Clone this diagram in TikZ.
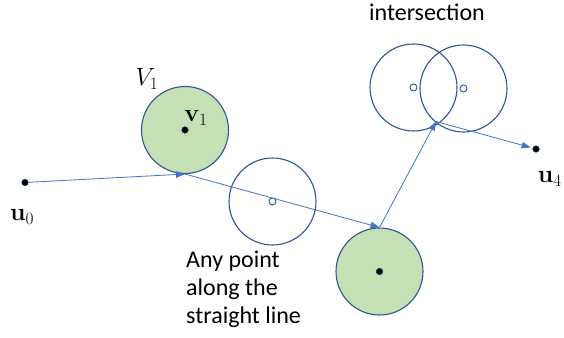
\documentclass[tikz,border=0pt]{standalone}
\usepackage{amsmath,amssymb}
\usepackage{bm}
\usepackage[no-math]{fontspec}
\setmainfont{Carlito}
\usepackage{tikz}
\usepackage{xcolor}
\usetikzlibrary{arrows.meta,positioning,calc}
\definecolor{ringblue}{HTML}{2F5597}
\definecolor{ballgreen}{HTML}{C5E0B4}
\definecolor{arrowblue}{HTML}{4472C4}
\definecolor{dotnavy}{HTML}{1F3864}
\tikzset{
  greenball/.style={draw=ringblue,fill=ballgreen,line width=1.1pt,circle,
                    minimum size=87pt,inner sep=0pt},
  emptyball/.style={draw=ringblue,line width=1.1pt,circle,
                    minimum size=87pt,inner sep=0pt},
  pathdot/.style={draw=dotnavy,fill=black,circle,line width=0.6pt,
                  minimum size=6.5pt,inner sep=0pt},
  opendot/.style={draw=ringblue,fill=white,circle,line width=0.9pt,
                  minimum size=7pt,inner sep=0pt},
  patharr/.style={-{Triangle[length=9pt,width=6.5pt]},line width=0.8pt,color=arrowblue},
  mathlbl/.style={font=\fontsize{24}{28}\selectfont,inner sep=0pt},
  textlbl/.style={font=\fontsize{24}{28}\selectfont,inner sep=0pt,align=left}
}

\begin{document}
\begin{tikzpicture}[x=1pt,y=-1pt]
  \useasboundingbox (0,0) rectangle (564,337);

  % regions and candidate balls
  \node[greenball] (V1ball) at (185,130) {};
  \node[emptyball] (midball) at (272.5,201.5) {};
  \node[greenball] (V3ball) at (379.5,271.5) {};
  \node[emptyball] (leftball) at (413.5,87.5) {};
  \node[emptyball] (rightball) at (463.5,88.5) {};

  % centres
  \node[pathdot] (u0) at (25,182.5) {};
  \node[pathdot] (v1) at (185,130) {};
  \node[opendot] (midc) at (272.5,201.5) {};
  \node[pathdot] (v3) at (379.5,271.5) {};
  \node[opendot] (leftc) at (413.5,87.5) {};
  \node[opendot] (rightc) at (463.5,88.5) {};
  \node[pathdot] (u4) at (536,149) {};
  \coordinate (meet) at (436,121.5);

  % path through the regions
  \draw[patharr] (u0) -- (V1ball.south);
  \draw[patharr] (V1ball.south) -- (V3ball.north);
  \draw[patharr] (V3ball.north) -- (meet);
  \draw[patharr,shorten >=2pt] (meet) -- (u4);

  % labels
  \node[mathlbl] (u0lbl) at (22,217) {$\mathbf{u}_0$};
  \node[mathlbl] (V1lbl) at (147,79) {$V_1$};
  \node[mathlbl] (v1lbl) at (196,118) {$\mathbf{v}_1$};
  \node[mathlbl,anchor=east] (u4lbl) at (562,179) {$\mathbf{u}_4$};
  \node[textlbl] (meetlbl) at (427,12) {intersection};
  \node[textlbl,anchor=north west] (anylbl) at (186,251) {Any point\\along the\\straight line};
\end{tikzpicture}
\end{document}
